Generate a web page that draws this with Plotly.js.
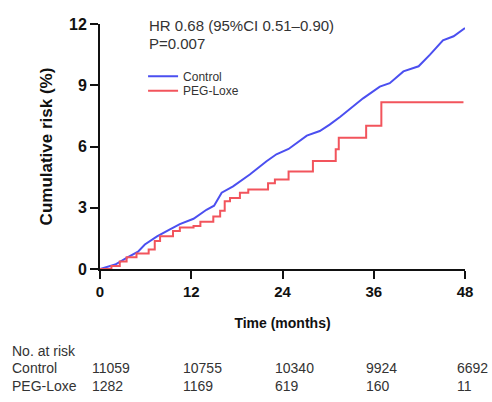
<!DOCTYPE html>
<html>
<head>
<meta charset="utf-8">
<script src="https://cdn.plot.ly/plotly-3.0.1.min.js"></script>
<style>
  html, body { margin: 0; padding: 0; background: #fff; }
  #chart { width: 492px; height: 402px; }
</style>
</head>
<body>
<div id="chart"></div>
<script>
// Cumulative risk curves (months, %)
const controlMonths = [0, 1, 2, 3.5, 5, 5.9, 7.5, 9.2, 10.5, 12.3, 14, 15, 16, 17.5, 19.7, 21.9, 23.2, 24.8, 27.2, 28.9, 30.2, 31.6, 33, 34.6, 36.8, 38.1, 39.9, 41.9, 43.4, 45.1, 46.5, 48];
const controlRisk = [0, 0.1, 0.22, 0.55, 0.85, 1.2, 1.6, 1.94, 2.2, 2.46, 2.9, 3.1, 3.74, 4.05, 4.63, 5.28, 5.62, 5.88, 6.53, 6.76, 7.07, 7.46, 7.9, 8.36, 8.93, 9.1, 9.68, 9.93, 10.5, 11.2, 11.4, 11.8];

const pegMonths = [0, 1.5, 2.6, 3.5, 4.8, 6.4, 7.2, 7.9, 9.6, 10.5, 12.3, 13.2, 14.9, 15.8, 16.4, 17.1, 18.4, 19.5, 22.1, 23.0, 24.8, 28.0, 31.0, 31.4, 35.0, 37.0, 47.8];
const pegRisk = [0, 0.15, 0.37, 0.57, 0.76, 0.96, 1.37, 1.61, 1.86, 2.03, 2.11, 2.31, 2.57, 2.85, 3.32, 3.48, 3.73, 3.9, 4.2, 4.38, 4.78, 5.29, 5.87, 6.43, 7.02, 8.17, 8.17];

// Number at risk table
const atRiskMonths = [0, 12, 24, 36, 48];
const controlAtRisk = [11059, 10755, 10340, 9924, 6692];
const pegAtRisk = [1282, 1169, 619, 160, 11];

const xTicks = [0, 12, 24, 36, 48];
const yTicks = [0, 3, 6, 9, 12];

const FONT = 'Liberation Sans, Arial, sans-serif';
const BLUE = '#4b4ff0';
const RED = '#f2545c';

const traces = [
    {
        x: controlMonths,
        y: controlRisk,
        type: 'scatter',
        mode: 'lines',
        name: 'Control',
        line: { color: BLUE, width: 2 },
        legend: 'legend'
    },
    {
        x: pegMonths,
        y: pegRisk,
        type: 'scatter',
        mode: 'lines',
        name: 'PEG-Loxe',
        line: { color: RED, width: 2, shape: 'hv' },
        legend: 'legend2'
    }
];

const annotations = [
    {
        text: 'HR 0.68 (95%CI 0.51\u20130.90)',
        xref: 'paper', yref: 'paper', x: 0.129, y: 0.994,
        xanchor: 'left', yanchor: 'middle', showarrow: false,
        font: { family: FONT, size: 15, color: '#333' }
    },
    {
        text: 'P=0.007',
        xref: 'paper', yref: 'paper', x: 0.129, y: 0.922,
        xanchor: 'left', yanchor: 'middle', showarrow: false,
        font: { family: FONT, size: 15, color: '#333' }
    }
];

// at-risk table rows
const rowFont = { family: FONT, size: 14, color: '#333' };
const rows = [
    { label: 'No. at risk', y: -0.333, values: null },
    { label: 'Control', y: -0.404, values: controlAtRisk },
    { label: 'PEG-Loxe', y: -0.476, values: pegAtRisk }
];
rows.forEach(row => {
    annotations.push({
        text: row.label,
        xref: 'paper', yref: 'paper', x: -0.247, y: row.y,
        xanchor: 'left', yanchor: 'middle', showarrow: false,
        font: rowFont
    });
    if (!row.values) return;
    row.values.forEach((v, i) => {
        annotations.push({
            text: String(v),
            xref: 'x', yref: 'paper', x: atRiskMonths[i], y: row.y,
            xanchor: 'left', yanchor: 'middle', xshift: -10, showarrow: false,
            font: rowFont
        });
    });
});

const legendBase = {
    xanchor: 'left',
    yanchor: 'middle',
    bgcolor: 'rgba(0,0,0,0)',
    borderwidth: 0,
    itemwidth: 30,
    font: { family: FONT, size: 12, color: '#333' }
};

const layout = {
    width: 492,
    height: 402,
    margin: { l: 100, r: 27, t: 24, b: 133 },
    paper_bgcolor: '#fff',
    plot_bgcolor: '#fff',
    showlegend: true,
    legend: Object.assign({}, legendBase, { x: 0.118, y: 0.787 }),
    legend2: Object.assign({}, legendBase, { x: 0.118, y: 0.728 }),
    xaxis: {
        range: [0, 48],
        tickmode: 'array',
        tickvals: xTicks,
        ticks: 'outside',
        ticklen: 8,
        tickwidth: 2,
        tickcolor: '#111',
        showline: true,
        linewidth: 2,
        linecolor: '#111',
        showgrid: false,
        zeroline: false,
        tickfont: { family: FONT, size: 15, color: '#111', weight: 'bold' },
        title: {
            text: 'Time (months)',
            font: { family: FONT, size: 14, color: '#111', weight: 'bold' },
            standoff: 19
        }
    },
    yaxis: {
        range: [0, 12],
        tickmode: 'array',
        tickvals: yTicks,
        ticks: 'outside',
        ticklen: 8,
        tickwidth: 2,
        tickcolor: '#111',
        showline: true,
        linewidth: 2,
        linecolor: '#111',
        showgrid: false,
        zeroline: false,
        tickfont: { family: FONT, size: 16, color: '#111', weight: 'bold' },
        title: {
            text: 'Cumulative risk (%)',
            font: { family: FONT, size: 17, color: '#111', weight: 'bold' },
            standoff: 12
        }
    },
    annotations: annotations
};

Plotly.newPlot('chart', traces, layout, { displayModeBar: false, staticPlot: true });
</script>
</body>
</html>
